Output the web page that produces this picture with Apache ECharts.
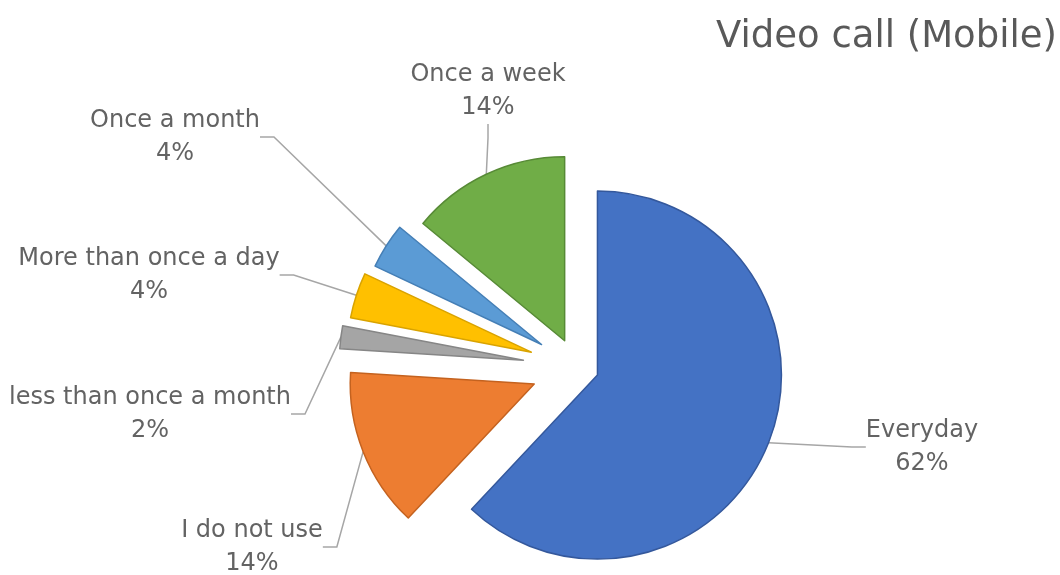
<!DOCTYPE html>
<html>
<head>
<meta charset="utf-8">
<title>Video call (Mobile)</title>
<script src="https://cdn.jsdelivr.net/npm/echarts@6/dist/echarts.min.js"></script>
<style>
  html, body { margin: 0; padding: 0; background: #ffffff; }
  #chart { width: 1060px; height: 575px; }
</style>
</head>
<body>
<div id="chart"></div>
<script>
// Answer categories, in clockwise order starting from 12 o'clock
const categories = [
  'Everyday',
  'I do not use',
  'less than once a month',
  'More than once a day',
  'Once a month',
  'Once a week'
];
// Share of respondents (%)
const shares = [62, 14, 2, 4, 4, 14];

// Slice fills and their darker rims
const fills = ['#4472C4', '#ED7D31', '#A5A5A5', '#FFC000', '#5B9BD5', '#70AD47'];
const rims  = ['#34589C', '#C4621F', '#868686', '#D9A300', '#457FB6', '#578A36'];

// How far each slice is pulled out from the middle (px)
const explode = [22, 46, 54, 48, 42, 29];

// Where each label block sits (centre of the two-line text)
const labelSpots = [
  [922, 447],
  [252, 547],
  [150, 414],
  [149, 275],
  [175, 137],
  [488, 91]
];

const PIE_CENTER = [577, 367];
const PIE_RADIUS = 184;
const START_ANGLE = 90;

const total = shares.reduce((a, b) => a + b, 0);

// Mid-angle (degrees, counter-clockwise from 3 o'clock) of every slice
const midAngles = [];
let acc = 0;
shares.forEach(v => {
  midAngles.push(START_ANGLE - 360 * (acc + v / 2) / total);
  acc += v;
});

// One pie per slice: every pie lays out the full data set so angles stay
// shared, but only its own slice is painted; its centre is pushed outward
// along that slice's mid-angle to give the exploded look.
const series = categories.map((_, k) => {
  const a = midAngles[k] * Math.PI / 180;
  const cx = PIE_CENTER[0] + explode[k] * Math.cos(a);
  const cy = PIE_CENTER[1] - explode[k] * Math.sin(a);
  return {
    type: 'pie',
    name: categories[k],
    center: [cx, cy],
    radius: PIE_RADIUS,
    startAngle: START_ANGLE,
    clockwise: true,
    avoidLabelOverlap: false,
    silent: true,
    emphasis: { disabled: true },
    data: categories.map((name, i) => {
      const own = i === k;
      return {
        name: name,
        value: shares[i],
        itemStyle: own
          ? { color: fills[i], borderColor: rims[i], borderWidth: 1.5 }
          : { color: 'rgba(0,0,0,0)', borderWidth: 0 },
        label: { show: own },
        labelLine: { show: own }
      };
    }),
    label: {
      position: 'outside',
      formatter: p => p.name + '\n' + p.value + '%',
      fontFamily: 'DejaVu Sans',
      fontSize: 24,
      lineHeight: 33,
      color: '#636363',
      align: 'center'
    },
    labelLine: {
      length: 10,
      length2: 14,
      smooth: false,
      lineStyle: { color: '#A6A6A6', width: 1.5 }
    },
    labelLayout: function (params) {
      const spot = labelSpots[params.dataIndex];
      return {
        x: spot[0],
        y: spot[1],
        align: 'center',
        verticalAlign: 'middle'
      };
    }
  };
});

const chart = echarts.init(document.getElementById('chart'), null, { renderer: 'canvas' });

chart.setOption({
  animation: false,
  tooltip: { show: false },
  title: {
    text: 'Video call (Mobile)',
    left: 711,
    top: 14,
    textStyle: {
      fontFamily: 'DejaVu Sans',
      fontSize: 37,
      fontWeight: 'normal',
      color: '#595959'
    }
  },
  series: series
});
</script>
</body>
</html>
